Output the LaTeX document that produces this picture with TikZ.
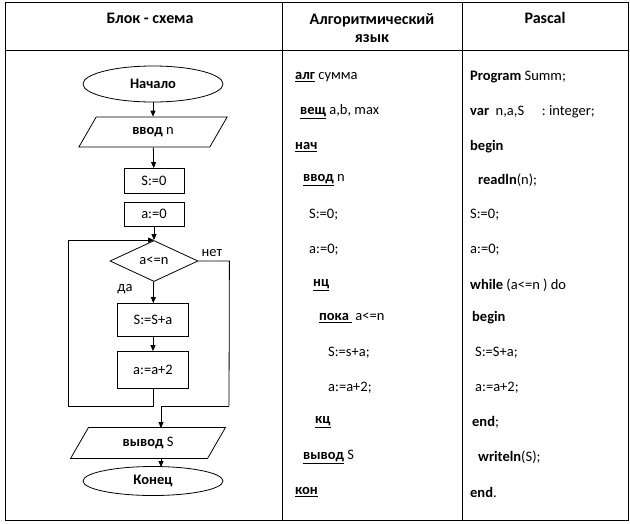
\documentclass[tikz,border=0pt]{standalone}
\usepackage{fontspec}
\setmainfont{Carlito}
\usetikzlibrary{shapes.geometric,arrows.meta}
\begin{document}
\begin{tikzpicture}[x=1pt,y=-1pt,font=\fontsize{14.5}{16}\selectfont,
  blk/.style={draw,thick,minimum width=60pt,minimum height=25pt,inner sep=1pt},
  term/.style={draw,thick,ellipse,minimum width=140pt,minimum height=36pt,inner sep=0pt,font=\fontsize{14.5}{16}\selectfont\bfseries},
  io/.style={draw,thick,trapezium,trapezium left angle=60,trapezium right angle=120,minimum height=30pt,inner sep=1pt},
  dec/.style={draw,thick,diamond,aspect=2.2,minimum width=88pt,minimum height=41pt,inner sep=0pt},
  arr/.style={thick,-{Triangle[length=6pt,width=5pt]}},
  ln/.style={thick},
  hd/.style={font=\fontsize{16}{18}\selectfont\bfseries,align=center},
  tx/.style={anchor=west,inner sep=0pt}]
\useasboundingbox (0,0) rectangle (630,523);
\draw[thick] (5,2) rectangle (628,520);
\draw[thick] (5,50) -- (628,50) (282,2) -- (282,520) (462,2) -- (462,520);
\node[hd] (h1) at (150,18) {Блок - схема};
\node[hd] (h2) at (372,28) {Алгоритмический\\язык};
\node[hd] (h3) at (545,18) {Pascal};
% flowchart
\node[term] (st) at (153,84) {Начало};
\node[io,minimum width=85pt] (in) at (153,132) {\textbf{ввод} n};
\node[blk] (s0) at (154,181) {S:=0};
\node[blk,minimum height=24pt] (a0) at (154,214) {a:=0};
\node[dec] (d) at (154,261) {a<=n};
\node[blk,minimum width=71pt,minimum height=33pt] (ss) at (153,320) {S:=S+a};
\node[blk,minimum width=71pt,minimum height=37pt] (aa) at (153,370) {a:=a+2};
\node[io,minimum width=72pt,minimum height=31pt] (out) at (148,443) {\textbf{вывод} S};
\node[term,minimum height=29pt] (en) at (153,481) {Конец};
\draw[arr] (st) -- (in);
\draw[arr] (in) -- (s0);
\draw[arr] (a0) -- (d);
\draw[arr] (d) -- (ss);
\draw[arr] (ss) -- (aa);
\coordinate (lb) at (68,406);
\draw[arr] (aa.south) |- (lb) |- (d.north);
\coordinate (rj) at (229,406);
\draw[ln] (d.east) -- ++(31,0) -- (rj);
\draw[arr] (rj) -- (161,406) -- (161,428);
\draw[arr] (161,459) -- (161,467);
\node (no) at (212,253) {нет};
\node (yes) at (125,289) {да};
% algorithmic column
\node[tx] (c1) at (295,77) {\textbf{\underline{алг}} сумма};
\node[tx] (c2) at (300,112) {\textbf{\underline{вещ}} a,b, max};
\node[tx] (c3) at (295,147) {\textbf{\underline{нач}}};
\node[tx] (c4) at (303,180) {\textbf{\underline{ввод}} n};
\node[tx] (c5) at (309,215) {S:=0;};
\node[tx] (c6) at (309,250) {a:=0;};
\node[tx] (c7) at (313,285) {\textbf{\underline{нц}}};
\node[tx] (c8) at (319,318) {\textbf{\underline{пока\ }}\ a<=n};
\node[tx] (c9) at (328,353) {S:=s+a;};
\node[tx] (c10) at (328,388) {a:=a+2;};
\node[tx] (c11) at (315,422) {\textbf{\underline{кц}}};
\node[tx] (c12) at (303,457) {\textbf{\underline{вывод}} S};
\node[tx] (c13) at (295,492) {\textbf{\underline{кон}}};
% pascal column
\node[tx] (p1) at (470,77) {\textbf{Program} Summ;};
\node[tx] (p2) at (470,112) {\textbf{var}\ \ n,a,S\quad\ : integer;};
\node[tx] (p3) at (470,147) {\textbf{begin}};
\node[tx] (p4) at (478,180) {\textbf{readln}(n);};
\node[tx] (p5) at (470,215) {S:=0;};
\node[tx] (p6) at (470,250) {a:=0;};
\node[tx] (p7) at (470,285) {\textbf{while} (a<=n ) do};
\node[tx] (p8) at (472,318) {\textbf{begin}};
\node[tx] (p9) at (475,353) {S:=S+a;};
\node[tx] (p10) at (475,388) {a:=a+2;};
\node[tx] (p11) at (472,422) {\textbf{end};};
\node[tx] (p12) at (478,457) {\textbf{writeln}(S);};
\node[tx] (p13) at (470,492) {\textbf{end}.};
\end{tikzpicture}
\end{document}
